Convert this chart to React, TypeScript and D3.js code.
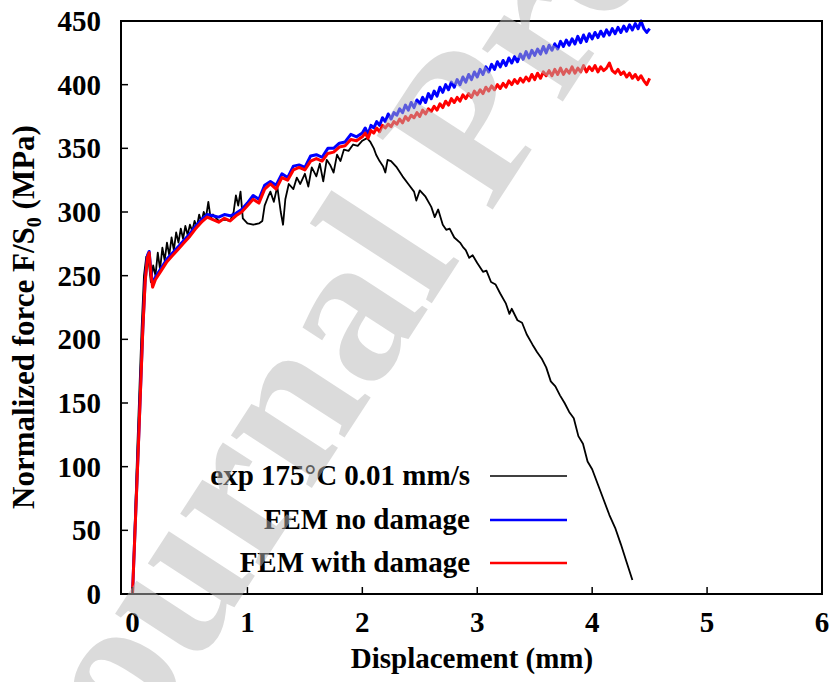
import * as d3 from "d3";

const xTicks = [0, 1, 2, 3, 4, 5, 6];
const yTicks = [0, 50, 100, 150, 200, 250, 300, 350, 400, 450];

const legendLabels = ["exp 175°C 0.01 mm/s", "FEM no damage", "FEM with damage"];
const seriesColors = ["#000000", "#0000ff", "#ff0000"];

const expData: [number, number][] = [
  [0, 0], [0.04, 110], [0.08, 210], [0.1, 250], [0.12, 265], [0.14, 262], [0.16, 245], [0.18, 258],
  [0.2, 250], [0.22, 268], [0.24, 255], [0.26, 272], [0.28, 262], [0.3, 276], [0.32, 266], [0.34, 280],
  [0.36, 270], [0.38, 284], [0.4, 276], [0.42, 287], [0.44, 279], [0.46, 289], [0.48, 282], [0.5, 290],
  [0.52, 285], [0.54, 293], [0.56, 288], [0.58, 298], [0.6, 292], [0.62, 300], [0.64, 296], [0.66, 308],
  [0.68, 295], [0.7, 298], [0.75, 293], [0.8, 294], [0.85, 293], [0.88, 300], [0.9, 313], [0.92, 305],
  [0.94, 316], [0.96, 295], [1.0, 291], [1.05, 290], [1.1, 291], [1.13, 293], [1.15, 305], [1.18, 312],
  [1.2, 316], [1.23, 308], [1.26, 320], [1.29, 300], [1.31, 290], [1.33, 310], [1.36, 322], [1.4, 318],
  [1.43, 327], [1.46, 322], [1.5, 330], [1.53, 320], [1.56, 335], [1.6, 328], [1.63, 338], [1.66, 324],
  [1.69, 341], [1.72, 337], [1.75, 331], [1.78, 345], [1.81, 340], [1.84, 349], [1.88, 348], [1.92, 353],
  [1.96, 352], [2.0, 356], [2.04, 358], [2.07, 355], [2.1, 350], [2.12, 345], [2.15, 340], [2.18, 336],
  [2.2, 331], [2.22, 341], [2.25, 340], [2.3, 335], [2.35, 328], [2.4, 322], [2.45, 316], [2.47, 309],
  [2.5, 317], [2.55, 312], [2.6, 304], [2.63, 296], [2.66, 302], [2.7, 290], [2.73, 286], [2.76, 287],
  [2.8, 280], [2.85, 276], [2.88, 272], [2.9, 270], [2.93, 264], [2.96, 266], [3.0, 260], [3.05, 253],
  [3.08, 254], [3.12, 245], [3.16, 243], [3.2, 236], [3.25, 228], [3.28, 220], [3.3, 224], [3.35, 215],
  [3.39, 213], [3.43, 204], [3.48, 196], [3.52, 190], [3.56, 185], [3.6, 178], [3.64, 167], [3.68, 163],
  [3.72, 156], [3.76, 150], [3.8, 143], [3.84, 138], [3.88, 124], [3.92, 118], [3.96, 104], [4.0, 98],
  [4.05, 86], [4.1, 74], [4.15, 62], [4.2, 52], [4.25, 39], [4.3, 25], [4.35, 11],
];

const noDamageData: [number, number][] = [
  [0, 0], [0.05, 114], [0.09, 209], [0.11, 246], [0.13, 266], [0.145, 269], [0.16, 254], [0.175, 243],
  [0.2, 249], [0.25, 256], [0.3, 263], [0.35, 268], [0.4, 273], [0.45, 278], [0.5, 283], [0.55, 289],
  [0.6, 294], [0.65, 298], [0.7, 297], [0.75, 296], [0.8, 298], [0.85, 297], [0.9, 299], [0.95, 302],
  [1.0, 307], [1.05, 313], [1.1, 310], [1.15, 321], [1.2, 324], [1.25, 321], [1.3, 330], [1.35, 327],
  [1.4, 336], [1.45, 337], [1.5, 335], [1.55, 344], [1.6, 345], [1.65, 343], [1.7, 350], [1.75, 350],
  [1.8, 354], [1.85, 355], [1.9, 361], [1.95, 359],
  [2.0, 362], [2.025, 366], [2.05, 361], [2.075, 368], [2.1, 366], [2.125, 371], [2.15, 368], [2.175, 374],
  [2.2, 371], [2.225, 377], [2.25, 373], [2.275, 378], [2.3, 376], [2.325, 381], [2.35, 378], [2.375, 384],
  [2.4, 380], [2.425, 386], [2.45, 382], [2.475, 388], [2.5, 385], [2.525, 390], [2.55, 386], [2.575, 393],
  [2.6, 389], [2.625, 395], [2.65, 391], [2.675, 398], [2.7, 394], [2.725, 400], [2.75, 396], [2.775, 402],
  [2.8, 398], [2.825, 404], [2.85, 400], [2.875, 406], [2.9, 402], [2.925, 408], [2.95, 404], [2.975, 410],
  [3.0, 406], [3.025, 412], [3.05, 408], [3.075, 414], [3.1, 410], [3.125, 416], [3.15, 412], [3.175, 418],
  [3.2, 414], [3.225, 419], [3.25, 415], [3.275, 421], [3.3, 417], [3.325, 422], [3.35, 418], [3.375, 424],
  [3.4, 420], [3.425, 426], [3.45, 421], [3.475, 427], [3.5, 423], [3.525, 428], [3.55, 424], [3.575, 430],
  [3.6, 425], [3.625, 431], [3.65, 427], [3.675, 432], [3.7, 428], [3.725, 434], [3.75, 430], [3.775, 435],
  [3.8, 431], [3.825, 436], [3.85, 432], [3.875, 438], [3.9, 433], [3.925, 439], [3.95, 434], [3.975, 440],
  [4.0, 436], [4.025, 441], [4.05, 437], [4.075, 442], [4.1, 438], [4.125, 443], [4.15, 439], [4.175, 444],
  [4.2, 440], [4.225, 445], [4.25, 441], [4.275, 446], [4.3, 442], [4.325, 447], [4.35, 443], [4.375, 448],
  [4.4, 444], [4.425, 450], [4.45, 444], [4.475, 441], [4.5, 444],
];

const damageData: [number, number][] = [
  [0, 0], [0.05, 113], [0.09, 208], [0.11, 245], [0.13, 264], [0.145, 268], [0.16, 252], [0.175, 241],
  [0.2, 247], [0.25, 254], [0.3, 261], [0.35, 266], [0.4, 271], [0.45, 276], [0.5, 281], [0.55, 287],
  [0.6, 292], [0.65, 296], [0.7, 294], [0.75, 292], [0.8, 295], [0.85, 293], [0.9, 297], [0.95, 300],
  [1.0, 305], [1.05, 310], [1.1, 307], [1.15, 318], [1.2, 322], [1.25, 318], [1.3, 327], [1.35, 325],
  [1.4, 333], [1.45, 335], [1.5, 333], [1.55, 340], [1.6, 342], [1.65, 340], [1.7, 346], [1.75, 347],
  [1.8, 351], [1.85, 352], [1.9, 357], [1.95, 356],
  [2.0, 359], [2.025, 362], [2.05, 358], [2.075, 364], [2.1, 362], [2.125, 366], [2.15, 363], [2.175, 368],
  [2.2, 366], [2.225, 369], [2.25, 367], [2.275, 371], [2.3, 369], [2.325, 373], [2.35, 370], [2.375, 375],
  [2.4, 372], [2.425, 376], [2.45, 374], [2.475, 378], [2.5, 375], [2.525, 380], [2.55, 377], [2.575, 381],
  [2.6, 379], [2.625, 383], [2.65, 380], [2.675, 385], [2.7, 382], [2.725, 387], [2.75, 384], [2.775, 389],
  [2.8, 386], [2.825, 390], [2.85, 387], [2.875, 392], [2.9, 389], [2.925, 393], [2.95, 390], [2.975, 395],
  [3.0, 392], [3.025, 396], [3.05, 393], [3.075, 398], [3.1, 395], [3.125, 399], [3.15, 396], [3.175, 400],
  [3.2, 397], [3.225, 401], [3.25, 398], [3.275, 403], [3.3, 400], [3.325, 404], [3.35, 401], [3.375, 405],
  [3.4, 402], [3.425, 406], [3.45, 403], [3.475, 408], [3.5, 404], [3.525, 409], [3.55, 405], [3.575, 410],
  [3.6, 407], [3.625, 411], [3.65, 407], [3.675, 412], [3.7, 408], [3.725, 413], [3.75, 408], [3.775, 412],
  [3.8, 409], [3.825, 414], [3.85, 409], [3.875, 413], [3.9, 410], [3.925, 415], [3.95, 410], [3.975, 414],
  [4.0, 411], [4.025, 415], [4.05, 410], [4.075, 414], [4.1, 411], [4.125, 413], [4.15, 417], [4.175, 411],
  [4.2, 409], [4.225, 412], [4.25, 408], [4.275, 410], [4.3, 406], [4.325, 409], [4.35, 405], [4.375, 408],
  [4.4, 404], [4.425, 407], [4.45, 403], [4.475, 400], [4.5, 405],
];

const FONT = "'Liberation Serif', 'Times New Roman', serif";

export default function App() {
  const W = 837;
  const H = 682;
  const left = 121, right = 822, top = 21, bottom = 594;
  const x = d3.scaleLinear().domain([-0.1, 6]).range([left, right]);
  const y = d3.scaleLinear().domain([0, 450]).range([bottom, top]);
  const line = d3.line<[number, number]>().x((d) => x(d[0])).y((d) => y(d[1]));

  const series = [expData, noDamageData, damageData];
  const widths = [1.8, 3, 3];
  const legendY = [476, 520, 563];

  return (
    <svg width={W} height={H} style={{ position: "absolute", left: 0, top: 0, background: "#fff" }}
      fontFamily={FONT} fontWeight="bold">
      <rect x={0} y={0} width={W} height={H} fill="#fff" />
      {series.map((s, i) => (
        <path key={i} d={line(s) || ""} fill="none" stroke={seriesColors[i]} strokeWidth={widths[i]}
          strokeLinejoin="round" />
      ))}
      <rect x={left} y={top} width={right - left} height={bottom - top} fill="none" stroke="#000" strokeWidth={2} />
      {yTicks.map((t) => (
        <g key={t}>
          <line x1={left} x2={left + 7} y1={y(t)} y2={y(t)} stroke="#000" strokeWidth={1.5} />
          <text x={101} y={y(t) + 10} textAnchor="end" fontSize={29}>{t}</text>
        </g>
      ))}
      {xTicks.map((t) => (
        <g key={t}>
          <line x1={x(t)} x2={x(t)} y1={bottom} y2={bottom - 7} stroke="#000" strokeWidth={1.5} />
          <text x={x(t)} y={632} textAnchor="middle" fontSize={29}>{t}</text>
        </g>
      ))}
      <text x={472} y={668} textAnchor="middle" fontSize={29}>Displacement (mm)</text>
      <text transform="translate(34,317) rotate(-90)" textAnchor="middle" fontSize={31}>
        Normalized force F/S<tspan dy={7} fontSize={20}>0</tspan><tspan dy={-7}> (MPa)</tspan>
      </text>
      {legendLabels.map((l, i) => (
        <g key={l}>
          <text x={470} y={legendY[i] + 9} textAnchor="end" fontSize={29}>{l}</text>
          <line x1={490} x2={567} y1={legendY[i]} y2={legendY[i]} stroke={seriesColors[i]}
            strokeWidth={i === 0 ? 1.5 : 2.5} />
        </g>
      ))}
      <text transform="translate(80,845) rotate(-57)" fontSize={210} fill="rgb(184,184,184)" opacity={0.5}>
        Journal Pre-proof
      </text>
    </svg>
  );
}
